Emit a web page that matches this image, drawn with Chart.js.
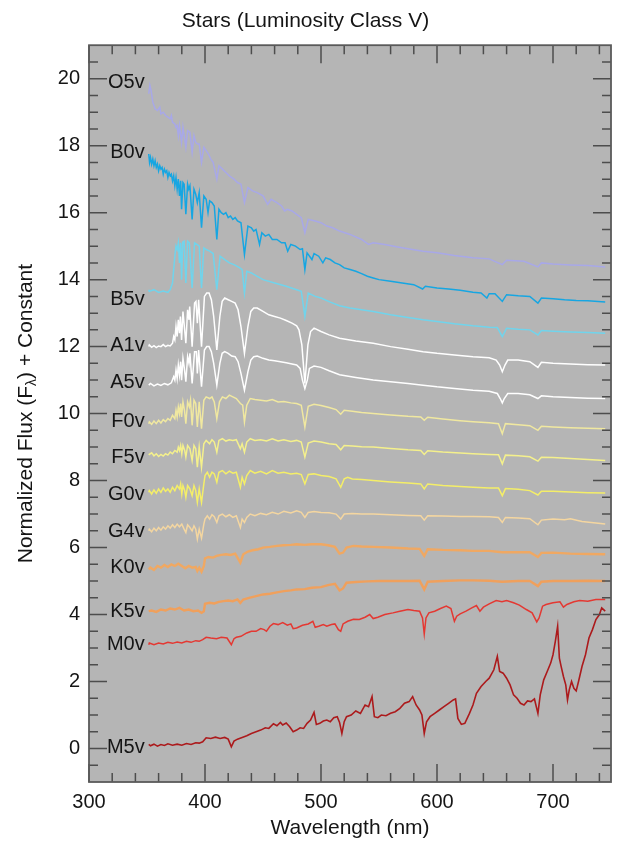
<!DOCTYPE html>
<html>
<head>
<meta charset="utf-8">
<title>Stars (Luminosity Class V)</title>
<script src="https://cdn.jsdelivr.net/npm/chart.js@4.4.1/dist/chart.umd.min.js"></script>
<style>
  html, body { margin: 0; padding: 0; background: #fff; }
  #wrap { width: 628px; height: 849px; }
</style>
</head>
<body>
<div id="wrap"><canvas id="spectra" width="628" height="849"></canvas></div>
<script>
// spectra, [wavelength (nm), normalized flux + constant]
const starNames = ['O5v', 'B0v', 'B5v', 'A1v', 'A5v', 'F0v', 'F5v', 'G0v', 'G4v', 'K0v', 'K5v', 'M0v', 'M5v'];

const O5V = [[351.5,19.55],[352.5,19.8],[353.5,19.65],[355,19.3],[357,19.1],[359,19.05],[361,19.15],[362,18.95],[364,19.0],[366,18.9],[368,18.85],[370,18.8],[371,18.9],[372,18.7],[374,18.65],[375,18.55],[376,18.6],[377,18.3],[378,18.6],[379.8,18.1],[381,18.55],[383.5,17.95],[385,18.45],[387,18.4],[388.9,17.8],[390.5,18.3],[392,18.1],[393.5,18.05],[395,18.05],[397,17.5],[399,17.95],[401,17.85],[403,17.75],[405,17.6],[407,17.5],[410.2,17.0],[412,17.4],[415,17.3],[418,17.2],[421,17.1],[425,17.0],[428,16.9],[431,16.85],[434,16.3],[437,16.75],[441,16.65],[445,16.6],[450,16.5],[454,16.25],[457,16.4],[462,16.3],[466,16.2],[468.6,16.05],[471,16.1],[475,16.05],[479,15.95],[483,15.85],[486.1,15.4],[489,15.8],[495,15.75],[500,15.7],[505,15.6],[510,15.55],[516,15.45],[525,15.35],[535,15.2],[541,15.05],[545,15.1],[555,15.05],[565,14.98],[575,14.92],[588,14.85],[600,14.8],[615,14.72],[631,14.65],[645,14.62],[656.3,14.45],[660,14.58],[675,14.55],[687,14.38],[690,14.5],[700,14.47],[715,14.44],[730,14.42],[745,14.38]];

const B0V = [[351.5,17.75],[352.2,17.5],[353,17.65],[354,17.45],[355,17.6],[356,17.4],[357,17.55],[358,17.35],[359,17.45],[360,17.25],[361,17.4],[362,17.3],[363,17.35],[364,17.15],[365,17.3],[366,17.2],[367,17.25],[368,17.05],[369,17.2],[370,17.1],[371,17.15],[372,16.95],[373,17.1],[374,16.8],[375,17.05],[376,16.7],[377,17.0],[378,16.5],[379,16.95],[379.8,16.1],[381,16.9],[382,16.85],[383.5,15.95],[385,16.85],[386,16.7],[387,16.8],[388.9,15.8],[390.5,16.7],[392,16.55],[393.4,16.3],[395,16.6],[397,15.55],[399,16.5],[401,16.4],[402.6,16.0],[404,16.35],[406,16.3],[408,16.2],[410.2,15.2],[412,16.1],[414,16.0],[416,15.95],[418,16.0],[420,15.85],[422,15.9],[424,15.8],[426,15.85],[428,15.75],[431,15.7],[434,14.75],[437,15.6],[440,15.55],[442,15.45],[444,15.5],[447,15.05],[449,15.4],[452,15.3],[455,15.35],[458,15.2],[462,15.2],[466,15.1],[469,15.1],[471.3,14.85],[474,15.05],[478,15.0],[482,14.9],[484,14.92],[486.1,14.3],[488,14.8],[492.2,14.6],[494,14.78],[498,14.7],[501.6,14.5],[504,14.65],[508,14.6],[512,14.5],[516,14.45],[520,14.35],[525,14.3],[530,14.25],[535,14.18],[540,14.1],[545,14.05],[550,14.0],[560,13.95],[570,13.9],[580,13.85],[587.6,13.72],[590,13.8],[600,13.75],[610,13.72],[620,13.68],[631,13.62],[638,13.6],[643,13.45],[645,13.58],[650,13.58],[656.3,13.35],[660,13.55],[670,13.52],[680,13.5],[687,13.3],[690,13.45],[700,13.43],[710,13.4],[720,13.38],[730,13.37],[745,13.33]];

const B5V = [[351.5,13.7],[352,13.65],[356,13.7],[360,13.62],[364,13.66],[368,13.62],[370,13.7],[372,13.9],[373,14.3],[374,14.7],[375,15.0],[376,14.9],[377,15.1],[378,14.5],[379,15.1],[379.8,14.0],[380.8,15.12],[382,15.15],[383.5,13.9],[385,15.15],[386.5,15.1],[388.9,13.75],[391,15.1],[393,15.05],[395,15.0],[397,13.75],[399,14.95],[401,14.9],[404,14.85],[407,14.78],[410.2,13.7],[413,14.7],[417,14.6],[421,14.5],[425,14.45],[430,14.35],[432,14.3],[434,13.6],[436,14.25],[440,14.2],[445,14.1],[450,14.0],[460,13.9],[470,13.8],[479,13.7],[483,13.65],[486.1,12.9],[489,13.6],[495,13.5],[500,13.45],[508,13.33],[516,13.22],[525,13.15],[535,13.1],[545,13.05],[560,12.95],[575,12.87],[588,12.8],[600,12.75],[615,12.68],[631,12.62],[645,12.58],[652,12.57],[656.3,12.3],[660,12.55],[670,12.52],[680,12.5],[687,12.35],[690,12.48],[700,12.46],[715,12.44],[730,12.42],[745,12.4]];

const A1V = [[351.5,12.0],[352,12.05],[354,11.98],[356,12.03],[358,11.97],[360,12.02],[362,12.0],[364,12.06],[366,12.0],[368,12.04],[370,12.02],[372,12.1],[373,12.3],[374,12.2],[375,12.6],[376,12.3],[377,12.8],[378,12.4],[378.8,12.9],[379.8,12.2],[381,13.05],[382.2,12.6],[383.5,12.1],[385,13.1],[386.2,12.8],[386.8,13.2],[388.9,12.0],[391,13.3],[392.2,13.35],[393.4,12.7],[394.5,13.4],[397,12.0],[399.5,13.5],[401.5,13.6],[403.5,13.6],[405.5,13.4],[407.5,12.9],[410.2,11.9],[412.8,12.9],[414.8,13.35],[417,13.45],[420,13.4],[423,13.35],[426,13.3],[428.5,13.1],[431,12.6],[434,11.8],[437,12.6],[439.5,13.05],[442,13.15],[445,13.15],[450,13.05],[455,12.95],[460,12.9],[465,12.85],[470,12.78],[475,12.7],[479,12.62],[481,12.5],[483.5,12.05],[486.1,10.9],[488.7,12.05],[491,12.45],[494,12.55],[500,12.45],[507,12.35],[516,12.25],[530,12.17],[545,12.1],[560,12.0],[575,11.92],[588,11.85],[600,11.8],[615,11.75],[631,11.7],[645,11.67],[651,11.6],[654,11.45],[656.3,11.25],[658.6,11.45],[661,11.6],[670,11.6],[680,11.55],[687,11.38],[690,11.53],[700,11.5],[715,11.48],[730,11.46],[745,11.45]];

const A5V = [[351.5,10.85],[353,10.9],[356,10.83],[359,10.88],[362,10.84],[365,10.9],[368,10.86],[371,10.92],[373,11.1],[374,11.0],[375,11.3],[376,11.05],[377,11.45],[378,11.15],[379,11.55],[379.8,11.0],[381,11.65],[382.2,11.35],[383.5,10.95],[385,11.7],[386.2,11.5],[387,11.8],[388.9,10.9],[391,11.85],[392.5,11.85],[393.4,11.2],[394.5,11.9],[397,10.8],[399.5,11.9],[401.5,12.0],[403.5,12.0],[405.5,11.85],[407.5,11.5],[410.2,10.85],[412.8,11.5],[414.8,11.8],[417,11.85],[420,11.8],[423,11.72],[426,11.7],[428.5,11.55],[431,11.2],[434,10.7],[437,11.25],[439.5,11.6],[442,11.7],[445,11.72],[450,11.65],[455,11.6],[460,11.58],[465,11.55],[470,11.52],[475,11.48],[479,11.45],[482,11.35],[484,11.0],[486.1,10.75],[488.2,11.0],[490,11.35],[494,11.42],[500,11.38],[507,11.28],[516,11.16],[530,11.08],[545,11.0],[560,10.95],[575,10.9],[588,10.85],[600,10.8],[615,10.75],[631,10.7],[645,10.67],[652,10.6],[654.5,10.45],[656.3,10.32],[658,10.45],[661,10.6],[670,10.6],[680,10.56],[687,10.45],[690,10.53],[700,10.5],[715,10.48],[730,10.46],[745,10.45]];

const F0V = [[351.5,9.7],[352,9.75],[354,9.68],[356,9.78],[358,9.7],[360,9.8],[362,9.72],[364,9.82],[366,9.76],[368,9.85],[370,9.8],[372,9.95],[374,9.85],[375,10.1],[376,9.9],[377,10.2],[378,10.0],[379,10.3],[379.8,9.9],[381,10.35],[382.3,10.1],[383.5,9.7],[385,10.35],[386.5,10.2],[387.5,10.4],[388.9,9.65],[390.5,10.4],[392,10.3],[393.4,9.6],[395,10.35],[397,9.55],[399,10.4],[401,10.5],[404,10.45],[406,10.5],[408,10.35],[410.2,9.85],[412.5,10.35],[415,10.5],[418,10.45],[421,10.55],[424,10.5],[427,10.45],[430.5,10.3],[432.5,10.25],[434,9.75],[436,10.25],[439,10.45],[443,10.42],[448,10.4],[453,10.38],[458,10.42],[463,10.35],[468,10.36],[474,10.32],[479,10.3],[483,10.25],[486.1,9.6],[489,10.22],[494,10.28],[500,10.24],[507,10.18],[513,10.12],[517,9.98],[520,10.1],[527,10.07],[535,10.03],[545,10.0],[560,9.96],[575,9.92],[586,9.9],[589,9.8],[592,9.89],[605,9.84],[620,9.79],[631,9.76],[645,9.73],[653,9.7],[656.3,9.4],[659,9.7],[670,9.67],[680,9.64],[687,9.5],[690,9.62],[700,9.6],[715,9.58],[730,9.56],[745,9.55]];

const F5V = [[351.5,8.8],[352,8.78],[354,8.83],[356,8.74],[358,8.8],[360,8.72],[362,8.78],[364,8.73],[366,8.8],[368,8.76],[370,8.85],[372,8.8],[374,8.9],[376,8.85],[377,9.0],[378,8.9],[379,9.05],[380,8.8],[381,9.05],[382.5,8.9],[383.5,8.7],[385,9.05],[387,8.95],[388.9,8.6],[390.5,9.05],[392,8.95],[393.4,8.4],[395,9.0],[397,8.4],[399,9.1],[401,9.2],[404,9.1],[406,9.22],[408,9.15],[410.2,8.85],[412,9.2],[415,9.25],[418,9.18],[421,9.22],[424,9.2],[427,9.22],[430.5,8.95],[432,9.1],[434,8.85],[436,9.15],[439,9.25],[443,9.2],[448,9.22],[453,9.18],[458,9.25],[463,9.18],[468,9.22],[474,9.17],[479,9.2],[483,9.15],[486.1,8.7],[489,9.12],[494,9.18],[500,9.15],[507,9.1],[513,9.08],[517,8.92],[520,9.05],[527,9.03],[535,9.01],[545,9.0],[560,8.96],[575,8.92],[586,8.9],[589,8.78],[592,8.89],[605,8.85],[620,8.82],[631,8.8],[645,8.78],[653,8.77],[656.3,8.5],[659,8.76],[670,8.74],[680,8.71],[687,8.58],[690,8.7],[700,8.69],[715,8.66],[730,8.63],[745,8.6]];

const G0V = [[351.5,7.65],[352,7.7],[354,7.6],[356,7.72],[358,7.62],[360,7.75],[362,7.65],[364,7.78],[366,7.68],[368,7.75],[370,7.65],[372,7.8],[374,7.7],[376,7.85],[378,7.75],[379,7.9],[380,7.6],[381,7.85],[382.5,7.7],[383.5,7.5],[385,7.85],[387,7.75],[388.9,7.55],[390.5,7.85],[392,7.7],[393.4,7.35],[395,7.75],[397,7.35],[399,7.9],[400,8.15],[402,8.25],[404,8.1],[406,8.25],[408,8.2],[410.2,7.95],[412,8.25],[415,8.3],[418,8.2],[421,8.28],[424,8.22],[427,8.25],[430.5,7.8],[432,8.1],[434,7.9],[436,8.15],[439,8.3],[443,8.22],[448,8.28],[453,8.2],[458,8.3],[463,8.22],[468,8.25],[474,8.2],[479,8.22],[483,8.18],[486.1,7.9],[489,8.18],[494,8.2],[500,8.15],[507,8.12],[513,8.05],[517,7.8],[520,8.05],[523,8.1],[527,8.05],[535,8.03],[545,8.0],[560,7.96],[575,7.93],[586,7.9],[589,7.75],[592,7.9],[605,7.85],[620,7.82],[631,7.8],[645,7.78],[653,7.78],[656.3,7.55],[659,7.76],[670,7.74],[680,7.7],[687,7.57],[690,7.68],[700,7.68],[715,7.66],[730,7.64],[745,7.63]];

const G4V = [[351.5,6.5],[352,6.55],[354,6.47],[356,6.58],[358,6.5],[360,6.6],[362,6.52],[364,6.62],[366,6.55],[368,6.65],[370,6.58],[372,6.68],[374,6.6],[376,6.7],[378,6.62],[380,6.7],[382,6.55],[383.5,6.45],[385,6.68],[387,6.6],[388.9,6.5],[390.5,6.65],[392,6.55],[393.4,6.25],[395,6.55],[397,6.28],[399,6.7],[400,6.85],[402,6.95],[404,6.85],[406,6.98],[408,6.92],[410.2,6.75],[412,6.95],[415,7.0],[418,6.92],[421,6.98],[424,6.9],[427,6.95],[430.5,6.6],[432,6.85],[434,6.75],[436,6.9],[439,7.0],[443,6.95],[448,7.02],[453,6.98],[458,7.05],[463,7.0],[468,7.08],[474,7.03],[479,7.1],[483,7.05],[486.1,6.9],[489,7.05],[494,7.08],[500,7.05],[507,7.04],[513,7.0],[517,6.85],[520,7.0],[527,7.02],[535,7.0],[545,7.0],[560,6.98],[575,6.96],[586,6.95],[589,6.82],[592,6.95],[605,6.94],[620,6.93],[631,6.93],[645,6.92],[653,6.9],[656.3,6.75],[659,6.9],[670,6.88],[680,6.86],[687,6.68],[690,6.82],[700,6.85],[710,6.83],[715,6.86],[725,6.78],[735,6.74],[745,6.7]];

const K0V = [[351.5,5.35],[353,5.4],[356,5.33],[359,5.45],[362,5.4],[365,5.48],[368,5.42],[371,5.5],[374,5.45],[377,5.52],[380,5.45],[383,5.38],[386,5.45],[389,5.4],[392,5.42],[393.4,5.3],[395,5.4],[397,5.28],[399,5.45],[400,5.68],[403,5.72],[407,5.7],[410,5.75],[414,5.78],[418,5.8],[422,5.78],[426,5.82],[430.5,5.55],[433,5.8],[437,5.88],[441,5.92],[446,5.95],[450,6.0],[456,6.02],[462,6.05],[468,6.07],[474,6.08],[479,6.1],[486,6.08],[492,6.1],[500,6.1],[506,6.07],[512,6.02],[516,5.82],[519,5.85],[522,6.0],[528,6.05],[535,6.03],[545,6.02],[560,6.0],[575,5.97],[585,5.96],[589,5.75],[592,5.95],[605,5.93],[620,5.92],[631,5.9],[645,5.9],[656,5.86],[670,5.86],[680,5.86],[687,5.72],[690,5.84],[700,5.85],[715,5.82],[730,5.81],[745,5.8]];

const K5V = [[351.5,4.1],[354,4.12],[358,4.08],[362,4.15],[366,4.12],[370,4.18],[374,4.15],[378,4.2],[382,4.12],[386,4.15],[390,4.1],[394,4.12],[397,4.05],[399,4.1],[400,4.32],[404,4.35],[408,4.33],[412,4.38],[416,4.4],[420,4.42],[424,4.4],[428,4.45],[430.5,4.35],[433,4.45],[438,4.5],[444,4.55],[450,4.6],[456,4.62],[462,4.66],[468,4.7],[474,4.72],[479,4.75],[486,4.76],[492,4.8],[500,4.82],[506,4.88],[512,4.92],[516,4.72],[519,4.78],[522,4.95],[530,4.97],[540,4.99],[550,5.0],[560,5.0],[575,5.0],[585,5.01],[589,4.75],[592,4.98],[605,5.0],[620,5.02],[631,5.02],[645,5.01],[656,4.98],[670,5.0],[680,5.0],[687,4.85],[690,4.98],[700,5.0],[715,5.0],[730,5.01],[745,5.0]];

const M0V = [[351.5,3.1],[352,3.15],[356,3.1],[360,3.15],[364,3.12],[368,3.17],[372,3.14],[376,3.18],[380,3.15],[384,3.2],[388,3.17],[392,3.22],[395,3.2],[398,3.25],[401,3.32],[405,3.3],[410,3.28],[414,3.32],[419,3.3],[422.7,3.1],[425,3.28],[427,3.32],[431,3.35],[436,3.45],[440,3.5],[444,3.5],[448,3.58],[451,3.55],[453,3.5],[456,3.65],[459,3.73],[463,3.7],[467,3.76],[471,3.68],[474,3.72],[476,3.58],[479,3.6],[484,3.68],[489,3.72],[493,3.8],[495,3.62],[498,3.65],[502,3.7],[505,3.65],[509,3.7],[512,3.72],[515,3.55],[517,3.5],[519,3.72],[523,3.8],[528,3.86],[533,3.85],[538,3.92],[542,4.0],[545,3.88],[549,3.92],[555,4.0],[562,4.05],[568,4.1],[575,4.15],[580,4.12],[585,4.1],[587.5,3.9],[589,3.42],[590.5,3.9],[593,4.05],[598,4.1],[603,4.18],[608,4.25],[612,4.18],[615,3.8],[617,3.95],[620,4.02],[625,4.1],[630,4.2],[634,4.27],[637,4.1],[640,4.22],[645,4.32],[651,4.42],[656,4.38],[660,4.42],[666,4.35],[671,4.28],[677,4.15],[682,4.05],[686,3.78],[688,3.9],[691,4.25],[694,4.3],[700,4.35],[706,4.38],[709,4.22],[712,4.3],[718,4.38],[723,4.42],[730,4.4],[737,4.45],[745,4.45]];

const M5V = [[351.5,0.12],[353,0.08],[356,0.13],[359,0.07],[362,0.12],[365,0.09],[368,0.14],[372,0.1],[376,0.13],[380,0.1],[384,0.15],[388,0.12],[392,0.17],[395,0.16],[398,0.2],[401,0.32],[405,0.3],[409,0.34],[413,0.3],[417,0.33],[420,0.28],[422.7,0.05],[425,0.22],[428,0.28],[432,0.33],[436,0.38],[440,0.45],[444,0.5],[448,0.55],[452,0.62],[455,0.6],[459,0.74],[462,0.68],[465,0.78],[467,0.7],[470,0.76],[473,0.65],[476,0.5],[479,0.55],[482,0.62],[485,0.6],[488,0.75],[491,0.85],[494,1.08],[496,0.72],[499,0.75],[502,0.82],[505,0.85],[508,0.8],[511,0.92],[514,0.95],[516,0.78],[518,0.45],[520,0.8],[522,0.95],[526,1.0],[530,1.12],[534,1.05],[538,1.3],[541,1.25],[544,1.55],[546,0.95],[549,0.92],[552,1.0],[556,0.98],[560,1.05],[564,1.1],[568,1.2],[572,1.35],[576,1.4],[579,1.55],[582,1.3],[585,1.15],[587,1.0],[589,0.45],[591,0.8],[594,0.95],[598,1.05],[602,1.15],[606,1.25],[610,1.35],[614,1.45],[616,1.48],[618,0.9],[621,0.72],[624,0.75],[628,1.05],[631,1.3],[634,1.65],[638,1.85],[642,2.0],[645,2.1],[649,2.35],[652,2.75],[654,2.3],[657,2.25],[660,2.1],[663,1.9],[666,1.6],[669,1.5],[672,1.35],[675,1.3],[678,1.42],[681,1.4],[684,1.48],[687,1.05],[689,1.6],[692,2.05],[695,2.3],[698,2.55],[700,2.8],[702,3.2],[704,3.65],[705.5,2.7],[707,2.45],[709,2.15],[711,1.9],[712.5,1.45],[714,1.75],[716,2.0],[718,1.8],[720,1.72],[722,2.0],[725,2.45],[728,2.8],[731,3.3],[734,3.55],[737,3.85],[740,4.0],[742,4.2],[745,4.1]];

const starSpectra = [O5V, B0V, B5V, A1V, A5V, F0V, F5V, G0V, G4V, K0V, K5V, M0V, M5V];
// flux level where each name label sits, left of its spectrum
const labelLevels = [19.88, 17.8, 13.4, 12.03, 10.93, 9.76, 8.69, 7.58, 6.48, 5.4, 4.09, 3.1, 0.03];

const starColors = [
  'rgb(168,168,232)', 'rgb(22,166,226)', 'rgb(112,212,236)', '#ffffff', '#ffffff',
  'rgb(240,232,160)', 'rgb(244,240,140)', 'rgb(244,238,104)', 'rgb(244,214,160)',
  'rgb(240,168,98)', 'rgb(240,160,92)', 'rgb(228,56,50)', 'rgb(172,26,28)'
];
const lineWidths = [1.5, 1.5, 1.5, 1.5, 1.5, 1.5, 1.5, 1.5, 1.5, 2.4, 2.4, 1.5, 1.6];

// axes
const xTickValues = [300, 320, 340, 360, 380, 400, 420, 440, 460, 480, 500, 520, 540, 560, 580, 600, 620, 640, 660, 680, 700, 720, 740];
const xMajorStep = 100;
const yMin = -1, yMax = 21, yMinorStep = 0.5, yMajorStep = 2;
const yLabelValues = [0, 2, 4, 6, 8, 10, 12, 14, 16, 18, 20];

const plotBg = '#b5b5b5';
const inkColor = '#151515';
const fontFamily = '"Liberation Sans", Arial, Helvetica, sans-serif';
Chart.defaults.font.family = fontFamily;

const yTickValues = [];
for (let v = yMin; v <= yMax + 1e-9; v += yMinorStep) yTickValues.push(Math.round(v * 10) / 10);

// gray plot field, inward ticks on all four sides, frame, star names, y title
const spectraDecor = {
  id: 'spectraDecor',
  beforeDatasetsDraw(chart) {
    const { ctx, chartArea: a } = chart;
    ctx.save();
    ctx.fillStyle = plotBg;
    ctx.fillRect(a.left, a.top, a.width, a.height);
    ctx.restore();
  },
  afterDatasetsDraw(chart) {
    const { ctx, chartArea: a, scales: { x, y } } = chart;
    ctx.save();
    ctx.strokeStyle = '#4d4d4d';
    ctx.lineWidth = 1.5;
    ctx.beginPath();
    x.ticks.forEach(t => {
      const px = x.getPixelForValue(t.value);
      const len = t.value % xMajorStep === 0 ? 18 : 9;
      ctx.moveTo(px, a.bottom); ctx.lineTo(px, a.bottom - len);
      ctx.moveTo(px, a.top); ctx.lineTo(px, a.top + len);
    });
    y.ticks.forEach(t => {
      if (t.value <= yMin || t.value >= yMax) return;
      const py = y.getPixelForValue(t.value);
      const len = t.value % yMajorStep === 0 ? 18 : 9;
      ctx.moveTo(a.left, py); ctx.lineTo(a.left + len, py);
      ctx.moveTo(a.right, py); ctx.lineTo(a.right - len, py);
    });
    ctx.stroke();
    ctx.lineWidth = 1.8;
    ctx.strokeStyle = '#5a5a5a';
    ctx.strokeRect(a.left, a.top, a.width, a.height);

    // star names
    ctx.fillStyle = inkColor;
    ctx.font = '20px ' + fontFamily;
    ctx.textAlign = 'right';
    ctx.textBaseline = 'middle';
    const labelX = x.getPixelForValue(348);
    starNames.forEach((name, i) => {
      ctx.fillText(name, labelX, y.getPixelForValue(labelLevels[i]));
    });

    // y title with subscript lambda
    const cy = (a.top + a.bottom) / 2;
    ctx.translate(26, cy);
    ctx.rotate(-Math.PI / 2);
    ctx.textAlign = 'left';
    ctx.textBaseline = 'middle';
    const big = '21px ' + fontFamily, small = '14px ' + fontFamily;
    const p1 = 'Normalized Flux (F', p2 = '\u03bb', p3 = ') + Constant';
    ctx.font = big; const w1 = ctx.measureText(p1).width; const w3 = ctx.measureText(p3).width;
    ctx.font = small; const w2 = ctx.measureText(p2).width;
    let sx = -(w1 + w2 + w3) / 2;
    ctx.font = big; ctx.fillText(p1, sx, 0); sx += w1;
    ctx.font = small; ctx.fillText(p2, sx, 6); sx += w2;
    ctx.font = big; ctx.fillText(p3, sx, 0);
    ctx.restore();
  }
};

new Chart(document.getElementById('spectra'), {
  type: 'line',
  data: {
    datasets: starSpectra.map((pts, i) => ({
      label: starNames[i],
      data: pts.map(p => ({ x: p[0], y: p[1] })),
      borderColor: starColors[i],
      borderWidth: lineWidths[i],
      pointRadius: 0,
      tension: 0,
      fill: false
    }))
  },
  options: {
    responsive: false,
    animation: false,
    devicePixelRatio: 1,
    layout: { padding: { left: 0, right: 17, top: 0, bottom: 0 } },
    plugins: {
      legend: { display: false },
      tooltip: { enabled: false },
      title: {
        display: true,
        text: 'Stars (Luminosity Class V)',
        color: inkColor,
        font: { size: 21, weight: 'normal' },
        padding: { top: 9, bottom: 11 }
      }
    },
    scales: {
      x: {
        type: 'linear',
        min: 300,
        max: 750,
        afterBuildTicks: s => { s.ticks = xTickValues.map(v => ({ value: v })); },
        afterFit: s => { s.height = 67; },
        grid: { display: false, drawTicks: false },
        border: { display: false },
        ticks: {
          autoSkip: false, maxRotation: 0, padding: 8, color: inkColor,
          font: { size: 20 },
          callback: v => (v % xMajorStep === 0 ? String(v) : '')
        },
        title: {
          display: true, text: 'Wavelength (nm)', color: inkColor,
          font: { size: 21 }, padding: { top: 0, bottom: 8 }
        }
      },
      y: {
        type: 'linear',
        min: yMin,
        max: yMax,
        afterBuildTicks: s => { s.ticks = yTickValues.map(v => ({ value: v })); },
        afterFit: s => { s.width = 89; },
        grid: { display: false, drawTicks: false },
        border: { display: false },
        ticks: {
          autoSkip: false, padding: 9, color: inkColor,
          font: { size: 20 },
          callback: v => (yLabelValues.includes(v) ? String(v) : '')
        }
      }
    }
  },
  plugins: [spectraDecor]
});
</script>
</body>
</html>
